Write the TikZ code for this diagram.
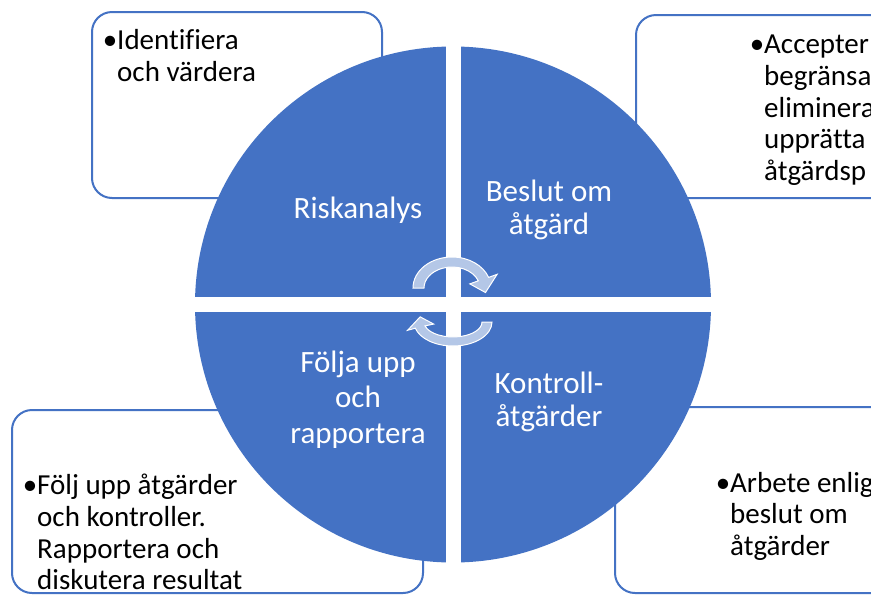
\documentclass[tikz,border=0pt]{standalone}
\usepackage{fontspec}
\setmainfont{Carlito}[Ligatures=NoCommon]
\definecolor{sablue}{HTML}{4472C4}
\definecolor{arrowfill}{HTML}{B4C7E7}
\begin{document}
\begin{tikzpicture}[x=1pt,y=-1pt,
  box/.style={draw=sablue,line width=2pt,fill=white,rounded corners=20pt},
  ctext/.style={text=white,font=\fontsize{31}{36}\selectfont,anchor=base,inner sep=0pt},
  btext/.style={text=black,font=\fontsize{29}{32}\selectfont,anchor=base west,inner sep=0pt,text depth=0pt},
  carrow/.style={fill=arrowfill,draw=white,line width=1pt}]
\useasboundingbox (0,0) rectangle (871,595);
\clip (0,0) rectangle (871,595);
\fill[white] (0,0) rectangle (871,595);
% boxes
\draw[box] (92,12) rectangle (382,198);
\draw[box] (636,15) rectangle (920,198);
\draw[box] (12,410) rectangle (423,593);
\draw[box] (615,407) rectangle (920,593);
% circle quadrants
\begin{scope}
\clip (453,304.5) circle (258);
\fill[sablue] (150,30) rectangle (446,297);
\fill[sablue] (461,30) rectangle (760,297);
\fill[sablue] (150,312) rectangle (446,580);
\fill[sablue] (461,312) rectangle (760,580);
\end{scope}
% circular arrows
\path[carrow] ([shift={(452,288)}]180:39 and 31) arc[start angle=180,end angle=340,x radius=39,y radius=31]
  -- ([shift={(452,288)}]340:48 and 40)
  -- ([shift={(452,288)}]10:34 and 26)
  -- ([shift={(452,288)}]340:19 and 12)
  -- ([shift={(452,288)}]340:28 and 21)
  arc[start angle=340,end angle=180,x radius=28,y radius=21] -- cycle;
\path[carrow] ([shift={(453,322)}]0:39 and 24) arc[start angle=0,end angle=165,x radius=39,y radius=24]
  -- ([shift={(453,322)}]165:47 and 32)
  -- ([shift={(453,322)}]195:34 and 20)
  -- ([shift={(453,322)}]165:20 and 8)
  -- ([shift={(453,322)}]165:29 and 15)
  arc[start angle=165,end angle=0,x radius=29,y radius=15] -- cycle;
% circle texts
\node[ctext] (q1) at (358,218) {Riskanalys};
\node[ctext] (q2a) at (549,201) {Beslut om};
\node[ctext] (q2b) at (549,234) {åtgärd};
\node[ctext] (q3a) at (549,393) {Kontroll-};
\node[ctext] (q3b) at (549,426) {åtgärder};
\node[ctext] (q4a) at (358,372) {Följa upp};
\node[ctext] (q4b) at (358,407) {och};
\node[ctext] (q4c) at (358,443) {rapportera};
% box texts
\node[btext] (tl1) at (117,49) {\llap{•}Identifiera};
\node[btext] (tl2) at (117,81) {och värdera};
\node[btext] (tr1) at (764,53) {\llap{•}Accepter};
\node[btext] (tr2) at (764,85) {begränsa};
\node[btext] (tr3) at (764,117) {eliminera};
\node[btext] (tr4) at (764,148) {upprätta};
\node[btext] (tr5) at (764,180) {åtgärdsp};
\node[btext] (br1) at (730,492) {\llap{•}Arbete enlig};
\node[btext] (br2) at (730,523) {beslut om};
\node[btext] (br3) at (730,555) {åtgärder};
\node[btext] (bl1) at (37,494) {\llap{•}Följ upp åtgärder};
\node[btext] (bl2) at (37,526) {och kontroller.};
\node[btext] (bl3) at (37,558) {Rapportera och};
\node[btext] (bl4) at (37,589) {diskutera resultat};
\end{tikzpicture}
\end{document}
